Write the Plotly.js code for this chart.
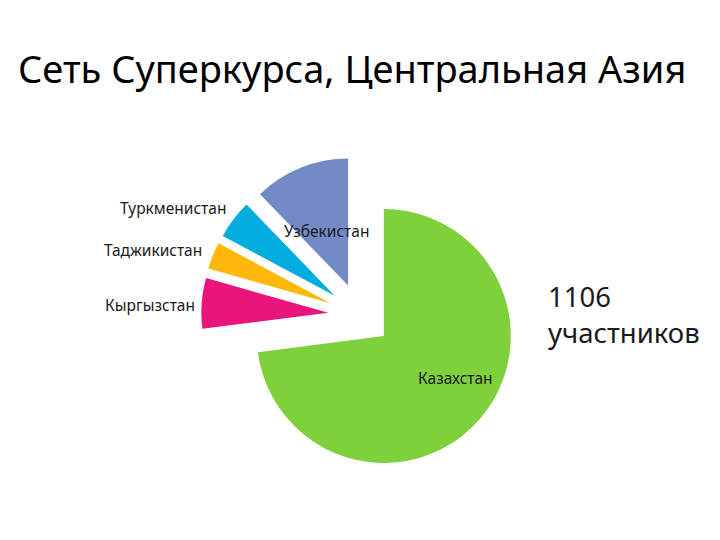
<!DOCTYPE html>
<html>
<head>
<meta charset="utf-8">
<script src="https://cdn.plot.ly/plotly-3.0.1.min.js"></script>
<style>html,body{margin:0;padding:0;background:#fff;}#chart{width:720px;height:540px;}</style>
</head>
<body>
<div id="chart"></div>
<script>
const countries = ["Казахстан", "Кыргызстан", "Таджикистан", "Туркменистан", "Узбекистан"];
const participants = [807, 71, 38, 55, 135];
const totalLabel = ["1106", "участников"];
const chartTitle = "Сеть Суперкурса, Центральная Азия";

const colors = ["#7FD13B", "#EA157A", "#FEB80A", "#00ADDC", "#738AC8"];
const FONT = "Noto Sans, sans-serif";

// label anchor spots (paper fractions) for each slice label
const labelSpots = [
  {x: 455/720, y: 1 - 378/540, xanchor: "center"},
  {x: 197/720, y: 1 - 305/540, xanchor: "right"},
  {x: 204/720, y: 1 - 250/540, xanchor: "right"},
  {x: 228/720, y: 1 - 208/540, xanchor: "right"},
  {x: 326/720, y: 1 - 231/540, xanchor: "center"}
];

const trace = {
  type: "pie",
  labels: countries,
  values: participants,
  sort: false,
  direction: "clockwise",
  rotation: 0,
  pull: 0.25,
  textinfo: "none",
  hoverinfo: "label+value",
  marker: {colors: colors, line: {width: 0}},
  domain: {x: [0.1, 0.9], y: [0.1227, 0.7106]},
  showlegend: false
};

const annotations = countries.map((c, i) => ({
  text: c, xref: "paper", yref: "paper",
  x: labelSpots[i].x, y: labelSpots[i].y,
  xanchor: labelSpots[i].xanchor, yanchor: "middle",
  showarrow: false,
  font: {family: FONT, size: 15.5, color: "#1a1a1a"}
}));

annotations.push({
  text: totalLabel.join("<br>"), xref: "paper", yref: "paper",
  x: 546/720, y: 1 - 314/540, xanchor: "left", yanchor: "middle", align: "left",
  showarrow: false,
  font: {family: FONT, size: 27.5, color: "#1a1a1a"}
});

annotations.push({
  text: chartTitle, xref: "paper", yref: "paper",
  x: 16/720, y: 1 - 68/540, xanchor: "left", yanchor: "middle",
  showarrow: false,
  font: {family: FONT, size: 38, color: "#000"}
});

const layout = {
  width: 720, height: 540,
  margin: {l: 0, r: 0, t: 0, b: 0},
  paper_bgcolor: "#fff",
  showlegend: false,
  annotations: annotations
};

Plotly.newPlot("chart", [trace], layout, {staticPlot: true});
</script>
</body>
</html>
